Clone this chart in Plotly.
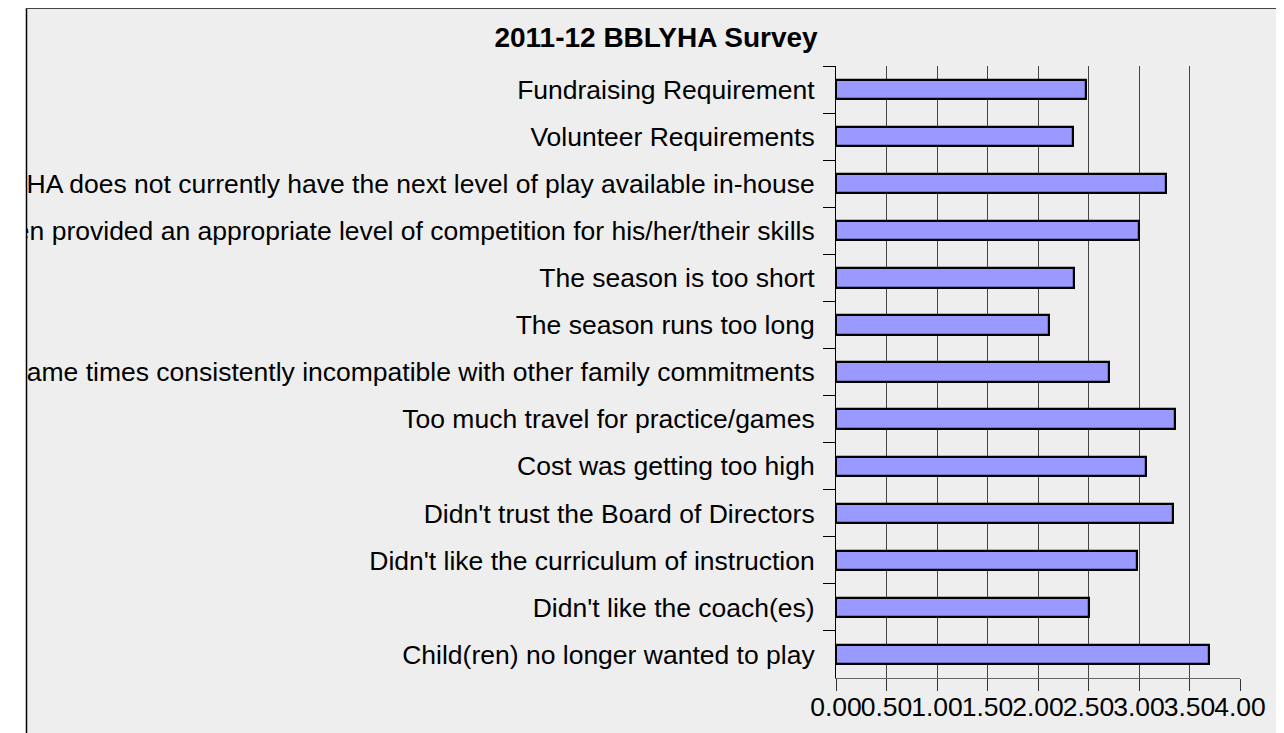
import plotly.graph_objects as go

# Data (top-to-bottom order as shown in the chart)
categories = [
    "Fundraising Requirement",
    "Volunteer Requirements",
    "BBLYHA does not currently have the next level of play available in-house",
    "Child(ren) has not been provided an appropriate level of competition for his/her/their skills",
    "The season is too short",
    "The season runs too long",
    "Practice/game times consistently incompatible with other family commitments",
    "Too much travel for practice/games",
    "Cost was getting too high",
    "Didn't trust the Board of Directors",
    "Didn't like the curriculum of instruction",
    "Didn't like the coach(es)",
    "Child(ren) no longer wanted to play",
]
values = [2.48, 2.35, 3.27, 3.00, 2.36, 2.11, 2.70, 3.36, 3.07, 3.34, 2.98, 2.50, 3.69]

x_ticks = [0, 0.5, 1.0, 1.5, 2.0, 2.5, 3.0, 3.5, 4.0]
x_ticklabels = ["0.00", "0.50", "1.00", "1.50", "2.00", "2.50", "3.00", "3.50", "4.00"]

title_text = "2011-12 BBLYHA Survey"

# the page places the figure 8px from the top-left corner of the window
OFF = 8
W, H = 1284 - OFF, 733 - OFF
L, R, T, B = 836 - OFF, 44, 66 - OFF, 63 - OFF
pw, ph = W - L - R, H - T - B

def px_x(p):  # p in reference-window pixels
    return (p - OFF - L) / pw

def px_y(p):
    return (H - B - (p - OFF)) / ph

FONT = "Liberation Sans, Arial, sans-serif"
BG = "#eeeeee"

fig = go.Figure(
    go.Bar(
        x=values,
        y=categories,
        orientation="h",
        width=0.41,
        marker=dict(color="#9999ff", line=dict(color="#000000", width=2.2)),
        hoverinfo="skip",
    )
)

fig.update_layout(
    width=W,
    height=H,
    margin=dict(l=L, r=R, t=T, b=B, pad=0, autoexpand=False),
    paper_bgcolor=BG,
    plot_bgcolor=BG,
    showlegend=False,
    font=dict(family=FONT, size=26.5, color="#000000"),
    title=dict(
        text="<b>" + title_text + "</b>",
        x=(656 - OFF) / W,
        xref="container",
        xanchor="center",
        y=1 - (37 - OFF) / H,
        yref="container",
        yanchor="middle",
        automargin=False,
        font=dict(family=FONT, size=28, color="#000000"),
    ),
    bargap=0,
)

fig.update_xaxes(
    range=[0, 4],
    tickmode="array",
    tickvals=x_ticks,
    ticktext=x_ticklabels,
    tickangle=0,
    automargin=False,
    showgrid=True,
    gridcolor="#444444",
    gridwidth=1,
    zeroline=False,
    showline=True,
    linecolor="#666666",
    linewidth=1,
    ticks="outside",
    ticklen=12,
    tickcolor="#333333",
    tickwidth=1,
    ticklabelstandoff=-7,
    tickfont=dict(family=FONT, size=26.5, color="#000000"),
    fixedrange=True,
)

fig.update_yaxes(
    type="category",
    categoryorder="array",
    categoryarray=categories,
    autorange="reversed",
    automargin=False,
    showgrid=False,
    zeroline=False,
    showline=True,
    linecolor="#000000",
    linewidth=1,
    ticks="outside",
    tickson="boundaries",
    ticklen=12,
    tickcolor="#000000",
    tickwidth=1,
    ticklabelstandoff=15,
    tickfont=dict(family=FONT, size=26.5, color="#000000"),
    fixedrange=True,
)

# white strip left of the chart frame (clips the long labels, as in the original)
fig.add_shape(type="rect", xref="paper", yref="paper",
              x0=px_x(-20), x1=px_x(26), y0=px_y(H + 30), y1=px_y(-20),
              fillcolor="#ffffff", line=dict(width=0), layer="above")
# frame lines
fig.add_shape(type="line", xref="paper", yref="paper",
              x0=px_x(26.5), x1=px_x(26.5), y0=px_y(8), y1=px_y(H + 30),
              line=dict(color="#000000", width=1.5), layer="above")
fig.add_shape(type="line", xref="paper", yref="paper",
              x0=px_x(26), x1=px_x(W + 30), y0=px_y(8.5), y1=px_y(8.5),
              line=dict(color="#444444", width=1), layer="above")

fig.write_html("out.html")
